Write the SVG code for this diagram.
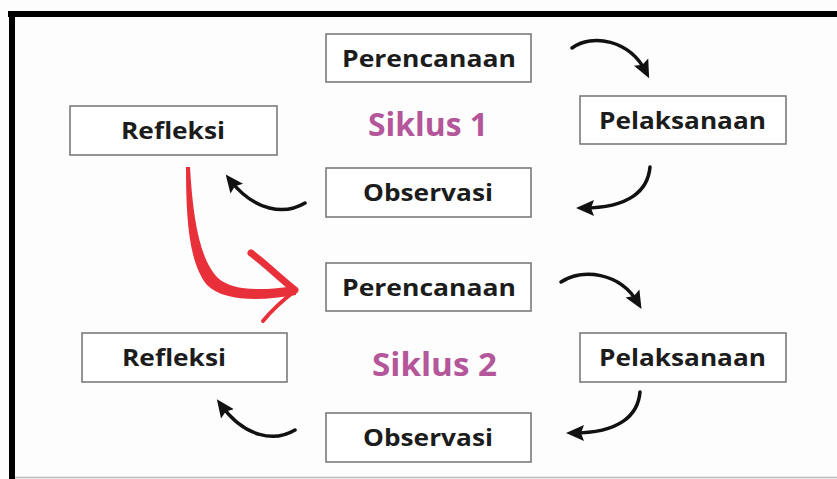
<svg xmlns="http://www.w3.org/2000/svg" width="837" height="479" viewBox="0 0 837 479">
<defs>
<style>
.box{fill:#ffffff;stroke:#7a7a7a;stroke-width:1.6}
.lbl{font-family:"Open Sans","Noto Sans","Liberation Sans",sans-serif;font-weight:bold;font-size:24px;fill:#1c1c1c}
.cyc{font-family:"Open Sans","Noto Sans","Liberation Sans",sans-serif;font-weight:bold;font-size:33px;fill:#b4569a}
.arr{fill:none;stroke:#111111;stroke-width:3.5;stroke-linecap:round;marker-end:url(#ah)}
</style>
<marker id="ah" viewBox="0 0 18 18" markerWidth="18" markerHeight="18" refX="11" refY="9" orient="auto" markerUnits="userSpaceOnUse">
<path d="M0,1 L18,9 L0,17 L3,9 Z" fill="#111111"/>
</marker>
</defs>
<rect x="0" y="0" width="837" height="479" fill="#fdfdfd"/>
<rect x="8" y="11" width="829" height="6" fill="#000000"/>
<rect x="9" y="11" width="6" height="468" fill="#000000"/>
<line x1="15" y1="477.5" x2="837" y2="477.5" stroke="#bdbdbd" stroke-width="1.5"/>

<g id="perencanaan1"><rect class="box" x="326" y="34" width="205" height="48"/><text class="lbl" x="342" y="66.5" textLength="174" lengthAdjust="spacingAndGlyphs">Perencanaan</text></g>
<g id="pelaksanaan1"><rect class="box" x="580" y="96" width="206" height="48"/><text class="lbl" x="599" y="128.5" textLength="167" lengthAdjust="spacingAndGlyphs">Pelaksanaan</text></g>
<g id="observasi1"><rect class="box" x="326" y="168" width="205" height="49"/><text class="lbl" x="363" y="201" textLength="130" lengthAdjust="spacingAndGlyphs">Observasi</text></g>
<g id="refleksi1"><rect class="box" x="70" y="106" width="207" height="49"/><text class="lbl" x="121" y="139" textLength="104" lengthAdjust="spacingAndGlyphs">Refleksi</text></g>
<g id="siklus1"><text class="cyc" x="368" y="136" textLength="120" lengthAdjust="spacingAndGlyphs">Siklus 1</text></g>

<g id="perencanaan2"><rect class="box" x="326" y="263" width="205" height="48"/><text class="lbl" x="342" y="295.5" textLength="174" lengthAdjust="spacingAndGlyphs">Perencanaan</text></g>
<g id="pelaksanaan2"><rect class="box" x="580" y="333" width="206" height="49"/><text class="lbl" x="599" y="366" textLength="167" lengthAdjust="spacingAndGlyphs">Pelaksanaan</text></g>
<g id="observasi2"><rect class="box" x="326" y="413" width="205" height="49"/><text class="lbl" x="363" y="446" textLength="130" lengthAdjust="spacingAndGlyphs">Observasi</text></g>
<g id="refleksi2"><rect class="box" x="82" y="333" width="205" height="49"/><text class="lbl" x="122" y="366" textLength="104" lengthAdjust="spacingAndGlyphs">Refleksi</text></g>
<g id="siklus2"><text class="cyc" x="372" y="376" textLength="125" lengthAdjust="spacingAndGlyphs">Siklus 2</text></g>

<g id="connectors">
<path class="arr" d="M572,48 C592,33 630,40 646,72"/>
<path class="arr" d="M650,167 C648,190 630,208 583,208"/>
<path class="arr" d="M305,203 C285,215 255,212 230,180"/>
<path class="arr" d="M561,282 C582,268 620,272 638,303"/>
<path class="arr" d="M640,392 C638,415 620,433 573,433"/>
<path class="arr" d="M295,430 C275,442 245,438 221,405"/>
<g id="red-arrow" fill="#e8303a" stroke="#e8303a" stroke-linejoin="round" stroke-linecap="round">
<path stroke="none" d="M186,167 C186,220 189,263 207,285 C224,302 262,301 296,295 L295,286 C262,291 232,291 218,278 C200,260 193,220 190,167 Z"/>
<path fill="none" stroke-width="7" d="M251,253 C268,266 282,280 295,290"/>
<path fill="none" stroke-width="4" d="M295,291 C283,300 272,310 263,321"/>
</g>
</g>
</svg>
